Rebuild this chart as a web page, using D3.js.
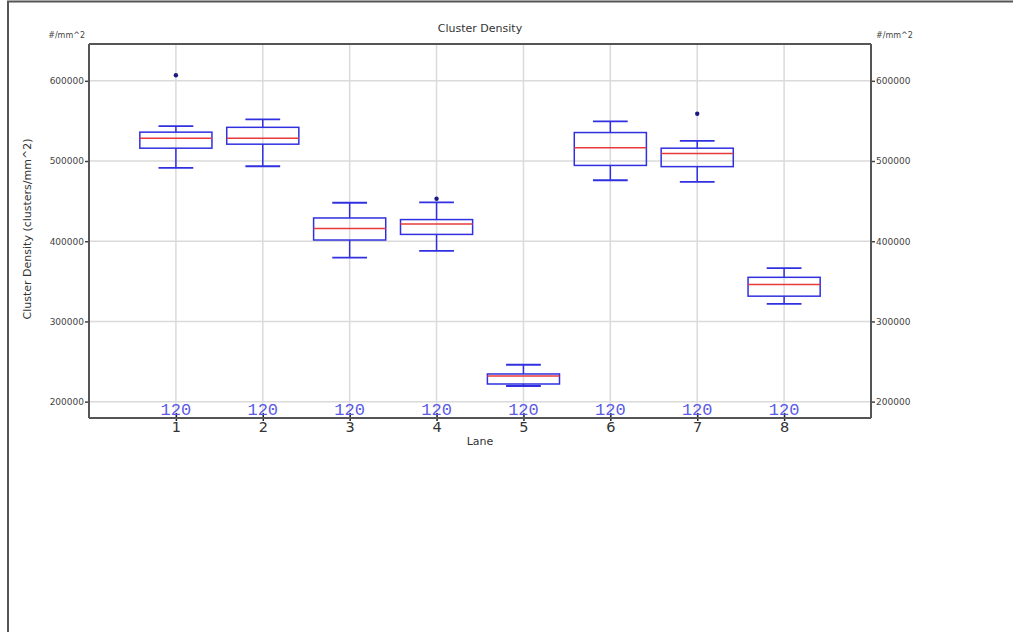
<!DOCTYPE html>
<html>
<head>
<meta charset="utf-8">
<script src="https://cdn.jsdelivr.net/npm/d3@7"></script>
<style>
  html, body { margin: 0; padding: 0; background: #fff; }
  svg { display: block; }
  text { font-family: "DejaVu Sans", sans-serif; }
</style>
</head>
<body>
<svg id="chart" width="1013" height="632"></svg>
<script>
// Lane box-plot statistics (clusters per mm^2)
const lanes       = [1, 2, 3, 4, 5, 6, 7, 8];
const whiskerHigh = [543500, 552000, 448000, 448500, 246000, 549500, 525000, 366500];
const q3          = [536000, 542000, 429000, 427000, 234500, 535500, 516000, 355000];
const medians     = [528500, 528500, 416000, 421500, 232000, 516500, 509500, 346000];
const q1          = [516000, 521000, 401500, 408500, 222000, 494500, 493000, 331500];
const whiskerLow  = [491500, 493500, 379500, 388000, 219500, 476000, 474000, 322000];
const counts      = [120, 120, 120, 120, 120, 120, 120, 120];
const outlierLane = [1, 4, 7];
const outlierVal  = [607000, 453000, 559000];
const yTicks      = [200000, 300000, 400000, 500000, 600000];

const svg = d3.select("#chart");

// outer frame (top and left edges)
svg.append("line").attr("x1", 7).attr("x2", 1013).attr("y1", 1.5).attr("y2", 1.5)
  .attr("stroke", "#555").attr("stroke-width", 2);
svg.append("line").attr("x1", 8).attr("x2", 8).attr("y1", 1).attr("y2", 632)
  .attr("stroke", "#555").attr("stroke-width", 2);

const plotL = 89, plotR = 871, plotT = 44, plotB = 418;
const x = d3.scaleLinear().domain([0, 9]).range([plotL, plotR]);
const y = d3.scaleLinear().domain([179600, 645900]).range([plotB, plotT]);

// grid
const grid = svg.append("g").attr("stroke", "#dadada").attr("stroke-width", 1.5);
grid.selectAll(".gy").data(yTicks).join("line")
  .attr("x1", plotL).attr("x2", plotR)
  .attr("y1", d => y(d)).attr("y2", d => y(d));
grid.selectAll(".gx").data(lanes).join("line")
  .attr("y1", plotT).attr("y2", plotB)
  .attr("x1", d => x(d)).attr("x2", d => x(d));

// axes
const fmt = d3.format("d");
const yLeft = svg.append("g").attr("transform", `translate(${plotL},0)`)
  .call(d3.axisLeft(y).tickValues(yTicks).tickFormat(fmt).tickSize(4).tickPadding(1));
const yRight = svg.append("g").attr("transform", `translate(${plotR},0)`)
  .call(d3.axisRight(y).tickValues(yTicks).tickFormat(fmt).tickSize(4).tickPadding(1));
const xAxis = svg.append("g").attr("transform", `translate(0,${plotB})`)
  .call(d3.axisBottom(x).tickValues(lanes).tickFormat(fmt).tickSize(5).tickPadding(-1));

[yLeft, yRight].forEach(g => {
  g.select(".domain").remove();
  g.selectAll(".tick line").attr("stroke", "#444").attr("stroke-width", 1.5);
  g.selectAll(".tick text").attr("fill", "#444").style("font-size", "9px")
    .style("font-family", "DejaVu Sans");
});
xAxis.select(".domain").remove();
xAxis.selectAll(".tick line").attr("stroke", "#222").attr("stroke-width", 1.5)
  .attr("y1", -5).attr("y2", 3);
xAxis.selectAll(".tick text").attr("fill", "#333").style("font-size", "14.5px")
  .style("font-family", "DejaVu Sans").attr("dy", "0.71em");

// plot frame
const frame = svg.append("g").attr("stroke", "#555").attr("stroke-width", 2).attr("fill", "none");
frame.append("line").attr("x1", plotL).attr("x2", plotR).attr("y1", plotT).attr("y2", plotT);
frame.append("line").attr("x1", plotL).attr("x2", plotR).attr("y1", plotB).attr("y2", plotB);
frame.append("line").attr("x1", plotL).attr("x2", plotL).attr("y1", plotT).attr("y2", plotB);
frame.append("line").attr("x1", plotR).attr("x2", plotR).attr("y1", plotT).attr("y2", plotB);

// box plots
const boxHalf = 0.415, capHalf = 0.2;
const blue = "#3030e0", red = "#e83a3a";
const boxes = svg.append("g");
lanes.forEach((lane, i) => {
  const g = boxes.append("g");
  const cx = x(lane);
  const bw = x(lane + boxHalf) - cx;
  const cw = x(lane + capHalf) - cx;
  // whiskers
  g.append("line").attr("x1", cx).attr("x2", cx)
    .attr("y1", y(whiskerHigh[i])).attr("y2", y(q3[i]))
    .attr("stroke", blue).attr("stroke-width", 1.5);
  g.append("line").attr("x1", cx).attr("x2", cx)
    .attr("y1", y(q1[i])).attr("y2", y(whiskerLow[i]))
    .attr("stroke", blue).attr("stroke-width", 1.5);
  // caps
  [whiskerHigh[i], whiskerLow[i]].forEach(v => {
    g.append("line").attr("x1", cx - cw).attr("x2", cx + cw)
      .attr("y1", y(v)).attr("y2", y(v))
      .attr("stroke", blue).attr("stroke-width", 1.8);
  });
  // box
  g.append("rect").attr("x", cx - bw).attr("width", 2 * bw)
    .attr("y", y(q3[i])).attr("height", y(q1[i]) - y(q3[i]))
    .attr("fill", "none").attr("stroke", blue).attr("stroke-width", 1.5);
  // median
  g.append("line").attr("x1", cx - bw).attr("x2", cx + bw)
    .attr("y1", y(medians[i])).attr("y2", y(medians[i]))
    .attr("stroke", red).attr("stroke-width", 1.5);
});

// outliers
svg.append("g").selectAll("circle").data(outlierLane).join("circle")
  .attr("cx", d => x(d)).attr("cy", (d, i) => y(outlierVal[i])).attr("r", 2.2)
  .attr("fill", "#1a1a80");

// sample counts per lane
svg.append("g").selectAll("text").data(lanes).join("text")
  .attr("x", d => x(d)).attr("y", 415)
  .attr("text-anchor", "middle")
  .style("font-family", "'Liberation Mono', 'DejaVu Sans Mono', monospace")
  .style("font-size", "17px").attr("fill", "#5a5ae6")
  .text((d, i) => counts[i]);

// titles
svg.append("text").attr("x", (plotL + plotR) / 2).attr("y", 32).attr("text-anchor", "middle")
  .style("font-size", "11px").attr("fill", "#333").text("Cluster Density");
svg.append("text").attr("x", (plotL + plotR) / 2).attr("y", 445).attr("text-anchor", "middle")
  .style("font-size", "11px").attr("fill", "#333").text("Lane");
svg.append("text").attr("transform", `translate(31,229) rotate(-90)`).attr("text-anchor", "middle")
  .style("font-size", "11px").attr("fill", "#333").text("Cluster Density (clusters/mm^2)");

// unit labels
svg.append("text").attr("x", 85).attr("y", 38).attr("text-anchor", "end")
  .style("font-size", "8px").attr("fill", "#444").text("#/mm^2");
svg.append("text").attr("x", 876).attr("y", 38).attr("text-anchor", "start")
  .style("font-size", "8px").attr("fill", "#444").text("#/mm^2");
</script>
</body>
</html>
